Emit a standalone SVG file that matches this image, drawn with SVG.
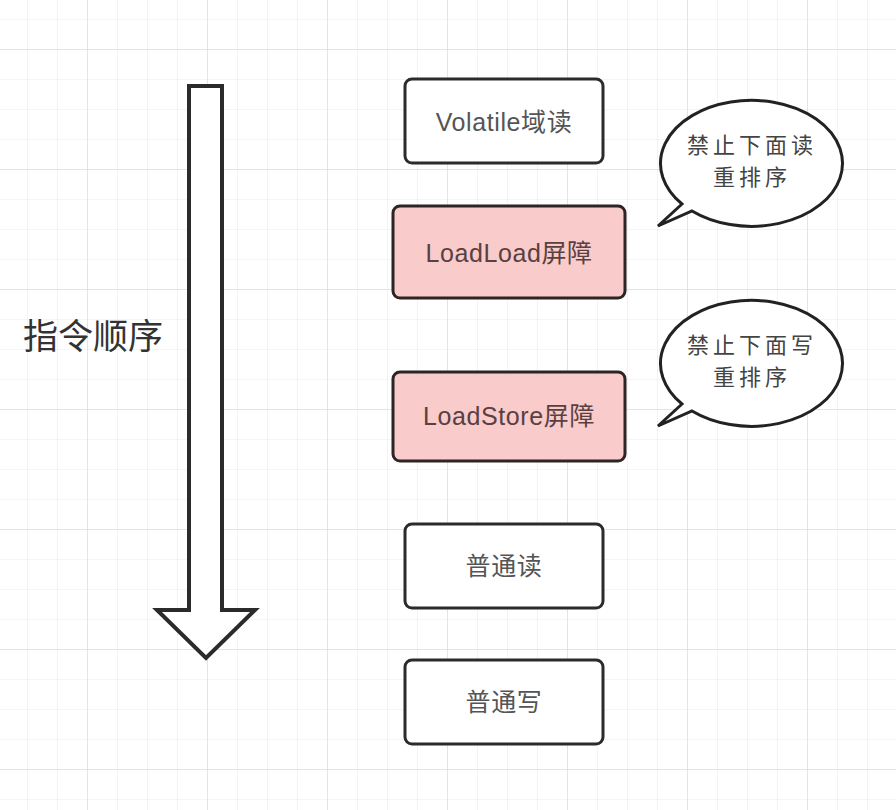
<svg xmlns="http://www.w3.org/2000/svg" width="896" height="810" viewBox="0 0 896 810">
<defs>
<pattern id="minor" x="27" y="19" width="30" height="30" patternUnits="userSpaceOnUse">
<path d="M0,0 H30 M0,0 V30" fill="none" stroke="#ebebeb" stroke-width="1.2"/>
</pattern>
<pattern id="major" x="87" y="49" width="120" height="120" patternUnits="userSpaceOnUse">
<path d="M0,0 H120 M0,0 V120" fill="none" stroke="#dedede" stroke-width="1.4"/>
</pattern>
</defs>
<style>
.box{fill:#ffffff;stroke:#2b2b2b;stroke-width:3}
.bar{fill:#f9cbcb;stroke:#2e2424;stroke-width:3}
.lbl{font-family:"Liberation Sans","Noto Sans CJK SC",sans-serif;font-size:25px;letter-spacing:0.6px;fill:#555;text-anchor:middle;dominant-baseline:central}
.bl{fill:#5a4040}
.bub{fill:#fff;stroke:#222;stroke-width:3;stroke-linejoin:miter}
.bt{font-family:"Noto Sans CJK SC",sans-serif;font-size:22px;letter-spacing:4px;fill:#444;text-anchor:middle;dominant-baseline:central}
</style>
<rect width="896" height="810" fill="#fff"/>
<rect width="896" height="810" fill="url(#minor)"/>
<rect width="896" height="810" fill="url(#major)"/>

<g id="order-arrow">
<path d="M189,86 H222 V610 H255 L206,658 L157,610 H189 Z" fill="#fff" stroke="#2b2b2b" stroke-width="4" stroke-linejoin="miter"/>
</g>
<g id="order-label">
<text x="23" y="333" font-family="Noto Sans CJK SC,sans-serif" font-size="35" fill="#333" dominant-baseline="central">指令顺序</text>
</g>

<g id="volatile-read">
<rect class="box" x="405" y="79" width="198" height="84" rx="7"/>
<text class="lbl" x="504" y="122">Volatile域读</text>
</g>
<g id="loadload">
<rect class="bar" x="393" y="206" width="232" height="92" rx="7"/>
<text class="lbl bl" x="509" y="253">LoadLoad屏障</text>
</g>
<g id="loadstore">
<rect class="bar" x="393" y="372" width="232" height="89" rx="7"/>
<text class="lbl bl" x="509" y="416">LoadStore屏障</text>
</g>
<g id="normal-read">
<rect class="box" x="405" y="524" width="198" height="84" rx="7"/>
<text class="lbl" x="504" y="566">普通读</text>
</g>
<g id="normal-write">
<rect class="box" x="405" y="660" width="198" height="84" rx="7"/>
<text class="lbl" x="504" y="702">普通写</text>
</g>

<g id="bubble-read">
<path class="bub" d="M682,204 L658,226 L692,211 A91,63 0 1 0 682,204 Z"/>
<text class="bt" x="752" y="143">禁止下面读</text>
<text class="bt" x="752" y="175">重排序</text>
</g>
<g id="bubble-write">
<path class="bub" d="M682,404 L658,426 L692,411 A91,63 0 1 0 682,404 Z"/>
<text class="bt" x="752" y="343">禁止下面写</text>
<text class="bt" x="752" y="375">重排序</text>
</g>
<g id="connectors"></g>
</svg>
